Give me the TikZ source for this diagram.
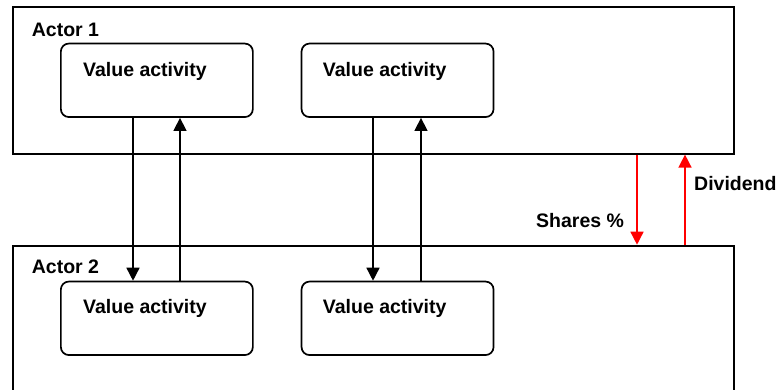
\documentclass[tikz,border=0pt]{standalone}
\usepackage{fontspec}
\setmainfont{Liberation Sans}
\usetikzlibrary{arrows.meta}
\begin{document}
\begin{tikzpicture}[x=1pt,y=-1pt,
  actor/.style={draw, line width=1.9pt, inner sep=0pt, anchor=north west, minimum width=721pt},
  activity/.style={draw, line width=1.7pt, rounded corners=8pt, inner sep=0pt,
    minimum width=192pt, minimum height=73.5pt, anchor=north west},
  lbl/.style={font=\fontsize{19.5}{23}\selectfont\bfseries, inner sep=0pt, anchor=base west},
  flow/.style={line width=1.5pt, -{Triangle[width=13pt,length=13pt]}},
  money/.style={flow, red}]
\useasboundingbox (0,0) rectangle (778,389);
\clip (0,0) rectangle (778,389);

% the two actors (the lower one runs off the bottom edge)
\node[actor, minimum height=146.7pt] (actor1) at (12,6) {};
\node[actor, minimum height=170pt] (actor2) at (12,244.7) {};
\node[lbl] (a1) at (31.7,36) {Actor 1};
\node[lbl] (a2) at (31.7,273.3) {Actor 2};

% value activities
\node[activity] (va1) at (60,42.7) {};
\node[activity] (va2) at (300.7,42.7) {};
\node[activity] (va3) at (60,280.7) {};
\node[activity] (va4) at (300.7,280.7) {};
\node[lbl] (t1) at (83,76) {Value activity};
\node[lbl] (t2) at (322.7,76) {Value activity};
\node[lbl] (t3) at (83,313.3) {Value activity};
\node[lbl] (t4) at (322.7,313.3) {Value activity};

% exchanges between activities
\draw[flow] (va1.south -| 133,0) -- (va3.north -| 133,0);
\draw[flow] (va3.north -| 180,0) -- (va1.south -| 180,0);
\draw[flow] (va2.south -| 373,0) -- (va4.north -| 373,0);
\draw[flow] (va4.north -| 421,0) -- (va2.south -| 421,0);

% ownership and returns between actors
\draw[money] (actor1.south -| 637,0) -- (actor2.north -| 637,0);
\draw[money] (actor2.north -| 685,0) -- (actor1.south -| 685,0);
\node[lbl] (shares) at (536,227.3) {Shares \%};
\node[lbl] (dividend) at (694,190) {Dividend};
\end{tikzpicture}
\end{document}
